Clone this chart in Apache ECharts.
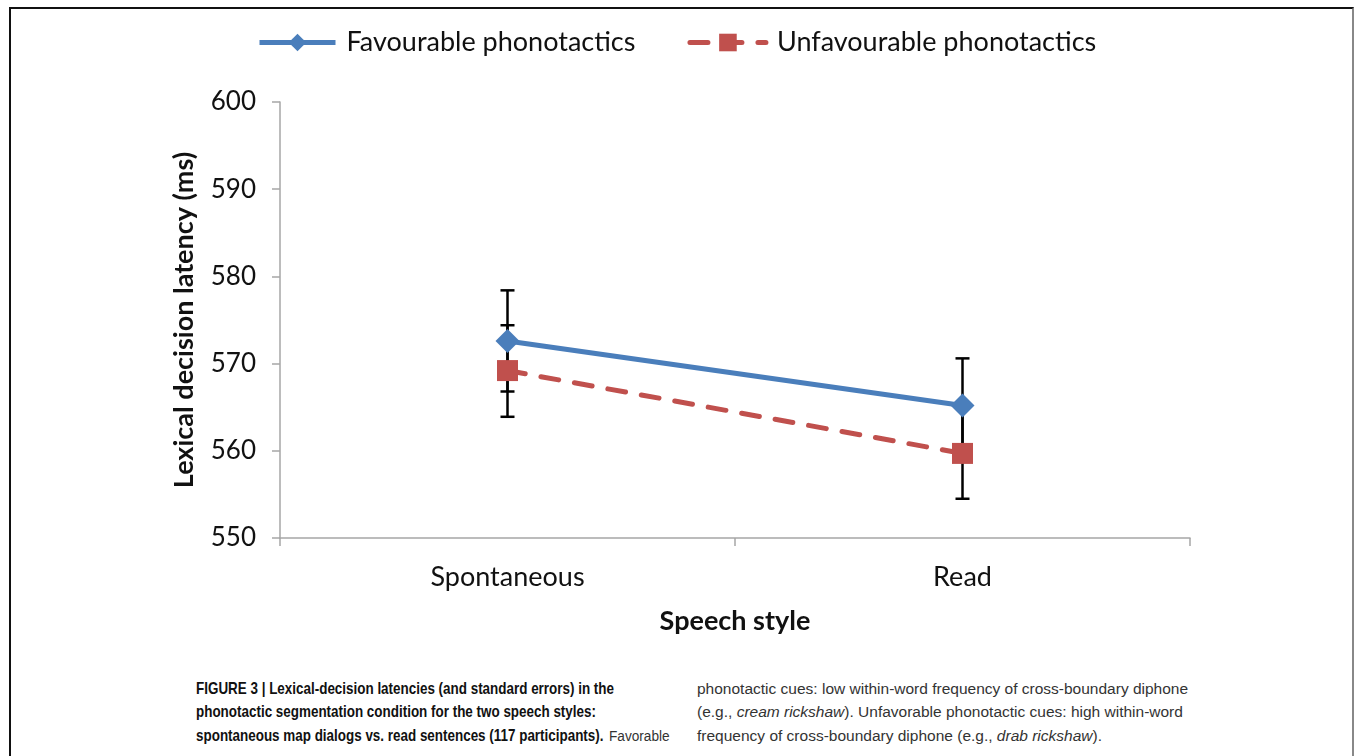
<!DOCTYPE html>
<html>
<head>
<meta charset="utf-8">
<script src="https://cdn.jsdelivr.net/npm/echarts@6/dist/echarts.min.js"></script>
<style>
  html, body { margin: 0; padding: 0; background: #fff; }
  body { width: 1357px; height: 756px; position: relative; overflow: hidden; }
  #frame { position: absolute; left: 9px; top: 7px; width: 1341px; height: 800px;
    border-top: 2px solid #111; border-left: 2px solid #111; border-right: 2px solid #888; }
  #main { position: absolute; left: 0; top: 0; width: 1357px; height: 660px; }
  .ln { position: absolute; white-space: nowrap; font-family: "Liberation Sans", Arial, sans-serif;
    font-size: 15.5px; line-height: 20px; color: #333; transform-origin: left center; }
  .b { font-weight: bold; font-size: 17px; color: #111; transform: scaleX(0.79); }
  .n { transform: scaleX(0.88); }
  i { font-style: italic; }
</style>
</head>
<body>
<div id="frame"></div>
<div id="main"></div>
<div class="ln b" style="left:196px; top:679px;">FIGURE 3 | Lexical-decision latencies (and standard errors) in the</div>
<div class="ln b" style="left:196px; top:702px;">phonotactic segmentation condition for the two speech styles:</div>
<div class="ln b" style="left:196px; top:726px;">spontaneous map dialogs vs. read sentences (117 participants).</div>
<div class="ln n" style="left:609px; top:726px;">Favorable</div>
<div class="ln" style="left:697px; top:679px;">phonotactic cues: low within-word frequency of cross-boundary diphone</div>
<div class="ln" style="left:697px; top:702px;">(e.g., <i>cream rickshaw</i>). Unfavorable phonotactic cues: high within-word</div>
<div class="ln" style="left:697px; top:726px;">frequency of cross-boundary diphone (e.g., <i>drab rickshaw</i>).</div>
<script>
const categories = ["Spontaneous", "Read"];
const favourable = [572.6, 565.2];
const unfavourable = [569.2, 559.7];
const favLow = [566.8, 559.9];
const favHigh = [578.4, 570.6];
const unfavLow = [563.9, 554.5];
const unfavHigh = [574.4, 564.9];

const font = "Lato, 'Open Sans', sans-serif";
const blue = "#4a7ebb";
const red = "#c0504d";
const chart = echarts.init(document.getElementById("main"));

function errorBars(low, high) {
  return categories.map((c, i) => [i, low[i], high[i]]);
}

// vertical whisker with two caps, drawn under the markers
function renderBar(params, api) {
  const x = api.value(0);
  const lo = api.coord([x, api.value(1)]);
  const hi = api.coord([x, api.value(2)]);
  const w = 7;
  const style = { stroke: "#000", lineWidth: 2.5 };
  return {
    type: "group",
    children: [
      { type: "line", shape: { x1: lo[0], y1: lo[1], x2: hi[0], y2: hi[1] }, style },
      { type: "line", shape: { x1: lo[0] - w, y1: lo[1], x2: lo[0] + w, y2: lo[1] }, style },
      { type: "line", shape: { x1: hi[0] - w, y1: hi[1], x2: hi[0] + w, y2: hi[1] }, style }
    ]
  };
}

const option = {
  animation: false,
  legend: {
    top: 24,
    left: 252,
    itemWidth: 76,
    itemHeight: 22,
    itemGap: 52,
    textStyle: { fontFamily: font, fontSize: 27, color: "#111", padding: [0, 0, 0, 6] },
    data: [
      { name: "Favourable phonotactics", lineStyle: { width: 5 } },
      { name: "Unfavourable phonotactics", lineStyle: { width: 5 } }
    ]
  },
  grid: { left: 280, top: 102, right: 167, bottom: 122 },
  xAxis: {
    type: "category",
    data: categories,
    boundaryGap: true,
    name: "Speech style",
    nameLocation: "middle",
    nameGap: 70,
    nameTextStyle: { fontFamily: font, fontSize: 27, fontWeight: "bold", color: "#111" },
    axisLine: { lineStyle: { color: "#a6a6a6", width: 1.5 } },
    axisTick: { show: true, length: 8, lineStyle: { color: "#a6a6a6", width: 1.5 } },
    axisLabel: { fontFamily: font, fontSize: 27, color: "#111", margin: 26 }
  },
  yAxis: {
    type: "value",
    min: 550,
    max: 600,
    interval: 10,
    name: "Lexical decision latency (ms)",
    nameLocation: "middle",
    nameGap: 82,
    nameRotate: 90,
    nameTextStyle: { fontFamily: font, fontSize: 27, fontWeight: "bold", color: "#111" },
    axisLine: { show: true, lineStyle: { color: "#a6a6a6", width: 1.5 } },
    axisTick: { show: true, length: 8, lineStyle: { color: "#a6a6a6", width: 1.5 } },
    splitLine: { show: false },
    axisLabel: { fontFamily: font, fontSize: 26, color: "#111", margin: 24 }
  },
  series: [
    {
      name: "fav-err",
      type: "custom",
      renderItem: renderBar,
      data: errorBars(favLow, favHigh),
      encode: { x: 0, y: [1, 2] },
      z: 1,
      silent: true
    },
    {
      name: "unfav-err",
      type: "custom",
      renderItem: renderBar,
      data: errorBars(unfavLow, unfavHigh),
      encode: { x: 0, y: [1, 2] },
      z: 1,
      silent: true
    },
    {
      name: "Favourable phonotactics",
      type: "line",
      data: favourable,
      symbol: "diamond",
      symbolSize: 24,
      color: blue,
      lineStyle: { width: 5, color: blue },
      itemStyle: { color: blue },
      z: 3
    },
    {
      name: "Unfavourable phonotactics",
      type: "line",
      data: unfavourable,
      symbol: "rect",
      symbolSize: 21,
      color: red,
      lineStyle: { width: 5, color: red, type: [18, 16], cap: "round" },
      itemStyle: { color: red },
      z: 3
    }
  ]
};
chart.setOption(option);
</script>
</body>
</html>
